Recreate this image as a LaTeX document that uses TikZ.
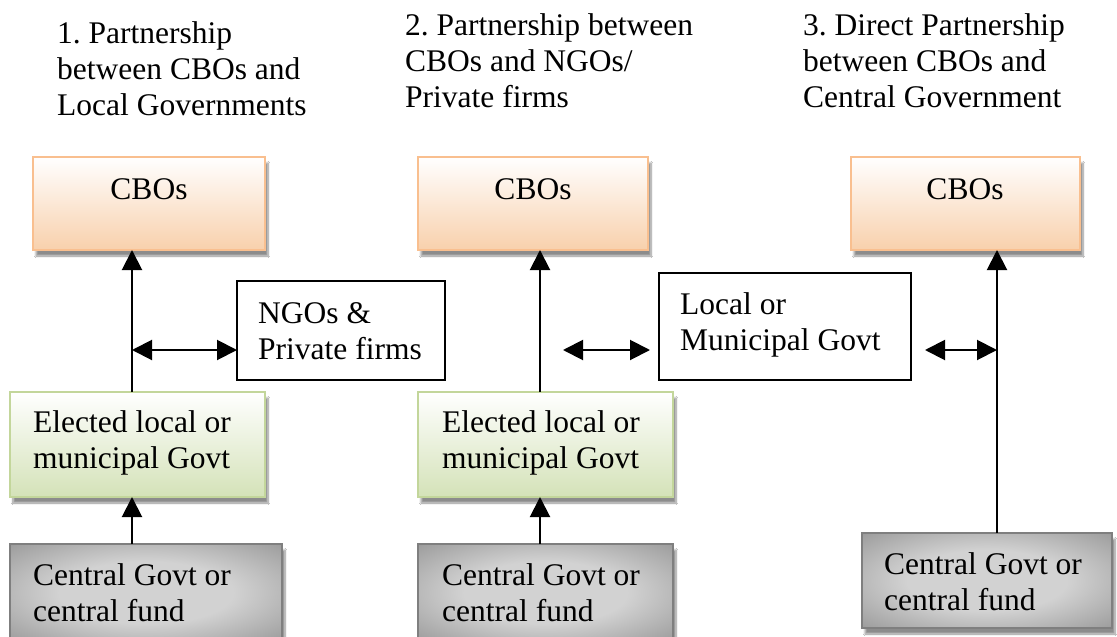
\documentclass[tikz,border=0pt]{standalone}
\usepackage{fontspec}
\setmainfont{Liberation Serif}
\usetikzlibrary{arrows.meta,shadows.blur}
\definecolor{cboborder}{HTML}{F9BF8F}
\definecolor{cbobot}{HTML}{F8D0AC}
\definecolor{cbomid}{HTML}{F9E6DA}
\definecolor{elborder}{HTML}{C3D69B}
\definecolor{elbot}{HTML}{D4E2B8}
\definecolor{elmid}{HTML}{EAF1DD}
\definecolor{cgborder}{HTML}{7F7F7F}
\definecolor{cgin}{HTML}{D2D2D2}
\definecolor{cgmid}{HTML}{A0A0A0}
\definecolor{cgout}{HTML}{555555}
\pgfdeclareradialshading{cgshade}{\pgfpoint{0bp}{0bp}}{color(0bp)=(cgin); color(16bp)=(cgin); color(34bp)=(cgmid); color(50bp)=(cgout)}
\begin{document}
\begin{tikzpicture}[x=1pt,y=-1pt,
  font=\fontsize{31.5}{36}\selectfont,
  box/.style={rectangle, anchor=north west, inner sep=0pt, outer sep=0pt},
  shad/.style={blur shadow={shadow xshift=3pt, shadow yshift=-6pt, shadow blur steps=8, shadow opacity=45}},
  cbo/.style={box, shad, draw=cboborder, line width=2.5pt, top color=white, middle color=cbomid, bottom color=cbobot},
  elected/.style={box, shad, draw=elborder, line width=2.5pt, top color=white, middle color=elmid, bottom color=elbot},
  central/.style={box, shad, draw=cgborder, line width=2.5pt, shading=cgshade},
  plain/.style={box, draw=black, line width=1.8pt, fill=white},
  txt/.style={anchor=base west, inner sep=0pt, align=left},
  ctxt/.style={anchor=base, inner sep=0pt},
  arr/.style={line width=2pt, -{Triangle[width=20pt,length=20pt]}},
  darr/.style={line width=2pt, {Triangle[width=20pt,length=20pt]}-{Triangle[width=20pt,length=20pt]}},
]
\useasboundingbox (0,0) rectangle (1117,637);
\fill[white] (0,0) rectangle (1117,637);

% titles (base anchor = baseline of last line)
\node[txt] (t1) at (57,115) {1.\ Partnership\\between CBOs and\\Local Governments};
\node[txt] (t2) at (405,107) {2.\ Partnership between\\CBOs and NGOs/\\Private firms};
\node[txt] (t3) at (803,107) {3.\ Direct Partnership\\between CBOs and\\Central Government};

% CBO boxes
\node[cbo, minimum width=232pt, minimum height=93pt] (cbo1) at (33,157) {};
\node[cbo, minimum width=230pt, minimum height=93pt] (cbo2) at (418,157) {};
\node[cbo, minimum width=229pt, minimum height=93pt] (cbo3) at (851,157) {};
\node[ctxt] (cbo1t) at (149,199) {CBOs};
\node[ctxt] (cbo2t) at (533,199) {CBOs};
\node[ctxt] (cbo3t) at (965,199) {CBOs};

% elected boxes
\node[elected, minimum width=255pt, minimum height=105pt] (el1) at (10,392) {};
\node[elected, minimum width=255pt, minimum height=105pt] (el2) at (418,392) {};
\node[txt] (el1t) at (33,468) {Elected local or\\municipal Govt};
\node[txt] (el2t) at (442,468) {Elected local or\\municipal Govt};

% central boxes
\node[central, minimum width=272pt, minimum height=97pt] (cg1) at (10,544) {};
\node[central, minimum width=255pt, minimum height=97pt] (cg2) at (418,544) {};
\node[central, minimum width=250pt, minimum height=95pt] (cg3) at (862,533) {};
\node[txt] (cg1t) at (33,621) {Central Govt or\\central fund};
\node[txt] (cg2t) at (442,621) {Central Govt or\\central fund};
\node[txt] (cg3t) at (884,610) {Central Govt or\\central fund};

% side boxes
\node[plain, minimum width=208pt, minimum height=99pt] (ngo) at (237,281) {};
\node[txt] (ngot) at (258,359) {NGOs \&\\Private firms};
\node[plain, minimum width=252pt, minimum height=107pt] (loc) at (659,273) {};
\node[txt] (loct) at (680,350) {Local or\\Municipal Govt};

% column coordinates
\coordinate (x1) at (132,0);
\coordinate (x2) at (540,0);
\coordinate (x3) at (997,0);
\coordinate (h1) at (132,350);
\coordinate (h2a) at (563,350);
\coordinate (h2b) at (650,350);
\coordinate (h3) at (925,350);

% vertical arrows
\draw[arr] (x1 |- el1.north) -- (x1 |- cbo1.south);
\draw[arr] (x1 |- cg1.north) -- (x1 |- el1.south);
\draw[arr] (x2 |- el2.north) -- (x2 |- cbo2.south);
\draw[arr] (x2 |- cg2.north) -- (x2 |- el2.south);
\draw[arr] (x3 |- cg3.north) -- (x3 |- cbo3.south);

% horizontal double arrows
\draw[darr] (h1) -- (h1 -| ngo.west);
\draw[darr] (h2a) -- (h2b);
\draw[darr] (h3) -- (h3 -| x3);
\end{tikzpicture}
\end{document}
